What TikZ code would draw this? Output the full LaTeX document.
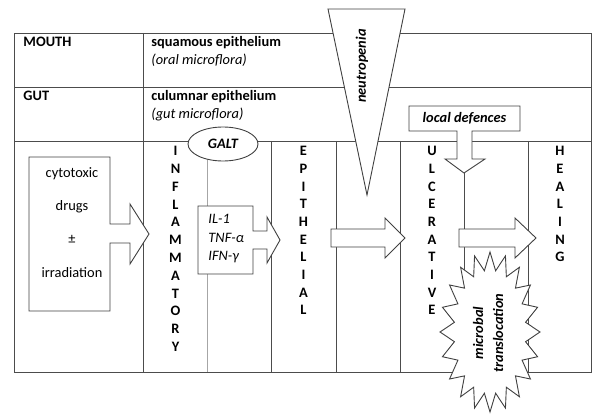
\documentclass[tikz,border=0pt]{standalone}
\usepackage{fontspec}
\setmainfont{Carlito}
\usetikzlibrary{calc,shapes.geometric}
\begin{document}
\begin{tikzpicture}[x=1pt,y=-1pt,line width=0.9pt,
  frame/.style={draw=black!70},
  lightline/.style={draw=black!35},
  shp/.style={draw=black!75,fill=white,line join=miter},
  bf/.style={font=\fontsize{14.4}{16}\selectfont\bfseries,inner sep=0pt},
  itx/.style={font=\fontsize{14.4}{16}\selectfont\itshape,inner sep=0pt},
  bit/.style={font=\fontsize{14.4}{16}\selectfont\bfseries\itshape,inner sep=0pt},
  rg/.style={font=\fontsize{14.4}{16}\selectfont,inner sep=0pt},
  vlet/.style={font=\fontsize{14.4}{16}\selectfont\bfseries,inner sep=0pt}]
\useasboundingbox (0,0) rectangle (593,414);
% table
\draw[frame] (14,33) rectangle (591,372);
\draw[frame] (14,87) -- (591,87);
\draw[frame] (14,141) -- (591,141);
\draw[frame] (143,33) -- (143,372);
\foreach \xx in {271,336,400,464,528} \draw[frame] (\xx,141) -- (\xx,372);
\draw[lightline] (207,141) -- (207,372);
% header texts
\node[bf,anchor=base west] (mouth) at (23,47) {MOUTH};
\node[bf,anchor=base west] (squam) at (151,47) {squamous epithelium};
\node[itx,anchor=base west] (oral) at (151,65) {(oral microflora)};
\node[bf,anchor=base west] (gut) at (23,101) {GUT};
\node[bf,anchor=base west] (colum) at (151,101) {culumnar epithelium};
\node[itx,anchor=base west] (gutm) at (151,119) {(gut microflora)};
% cytotoxic drugs arrow box
\draw[shp] (29,157) -- (110,157) -- (110,224) -- (130,224) -- (130,204) -- (149,234)
  -- (130,264) -- (130,243) -- (110,243) -- (110,311) -- (29,311) -- cycle;
\node[rg,anchor=base] (cyto) at (72,177) {cytotoxic};
\node[rg,anchor=base] (drugs) at (72,210) {drugs};
\node[rg,anchor=base] (pm) at (72,243) {±};
\node[rg,anchor=base] (irr) at (72,277) {irradiation};
% vertical words
\foreach \l [count=\i from 0] in {I,N,F,L,A,M,M,A,T,O,R,Y}
  \node[vlet] (inf\i) at (175.5,{151+17.8*\i}) {\l};
\foreach \l [count=\i from 0] in {E,P,I,T,H,E,L,I,A,L}
  \node[vlet] (epi\i) at (303.5,{151+17.7*\i}) {\l};
\foreach \l [count=\i from 0] in {U,L,C,E,R,A,T,I,V,E}
  \node[vlet] (ulc\i) at (432,{151+17.7*\i}) {\l};
\foreach \l [count=\i from 0] in {H,E,A,L,I,N,G}
  \node[vlet] (hea\i) at (560,{151+17.7*\i}) {\l};
% GALT
\node[draw=black!75,fill=white,ellipse,minimum width=70pt,minimum height=34pt,bit,inner sep=0pt] (galt) at (223,144) {GALT};
% cytokines box
\draw[shp] (198,206) -- (253,206) -- (253,231) -- (267,231) -- (267,217) -- (280,240)
  -- (267,263) -- (267,249) -- (253,249) -- (253,274) -- (198,274) -- cycle;
\node[itx,anchor=base west] (il1) at (208,223) {IL-1};
\node[itx,anchor=base west] (tnf) at (208,242) {TNF-α};
\node[itx,anchor=base west] (ifn) at (208,260) {IFN-γ};
% block arrows
\draw[shp] (331,229) -- (385,229) -- (385,218) -- (405,238) -- (385,258) -- (385,247) -- (331,247) -- cycle;
\draw[shp] (459,229) -- (515,229) -- (515,218) -- (536,238) -- (515,258) -- (515,247) -- (459,247) -- cycle;
% neutropenia
\draw[shp] (328,9) -- (405,9) -- (367,195) -- cycle;
\node[bit,rotate=90] (neut) at (362,66) {neutropenia};
% local defences
\draw[shp] (409,106) -- (520,106) -- (520,131) -- (472,131) -- (472,159) -- (485,159) -- (464,173)
  -- (445,159) -- (457,159) -- (457,131) -- (409,131) -- cycle;
\node[bit] (local) at (464.5,118.5) {local defences};
% microbial translocation starburst
\coordinate (c) at (490,332);
\draw[shp] ($(c)+(90:50 and 80)$)
  \foreach \k in {0,...,19} { -- ($(c)+({99+\k*18}:36 and 62)$) -- ($(c)+({108+\k*18}:50 and 80)$) } -- cycle;
\node[bit,rotate=90,align=center,font=\fontsize{14.4}{20}\selectfont\bfseries\itshape] (micro) at (488,333) {microbal\\translocation};
\end{tikzpicture}
\end{document}
